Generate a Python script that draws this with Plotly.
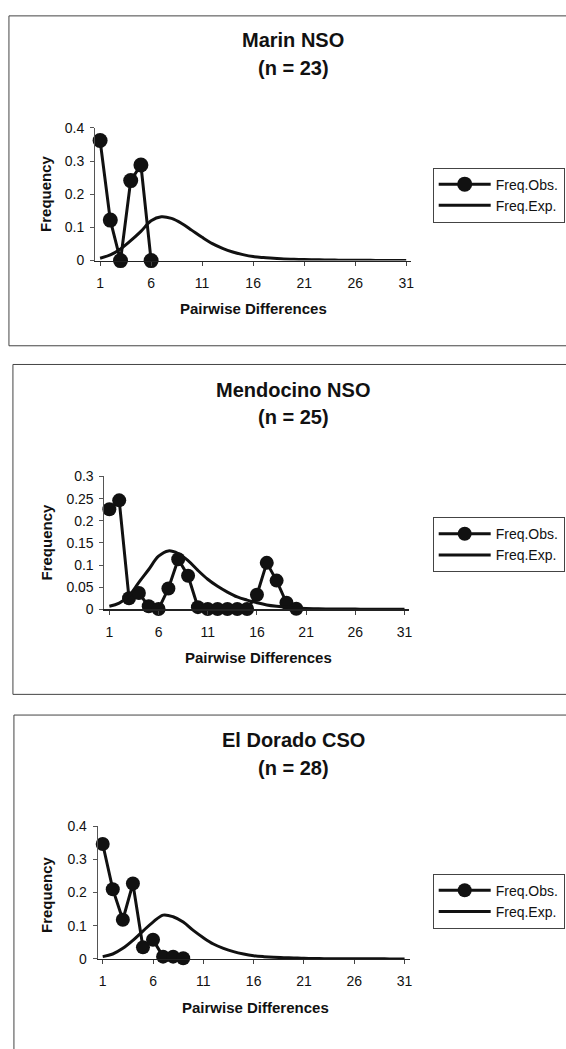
import plotly.graph_objects as go

W, H = 566, 1049

# ---------------- data ----------------
pairwise = list(range(1, 32))
tick_vals = [1, 6, 11, 16, 21, 26, 31]
tick_text = ["1", "6", "11", "16", "21", "26", "31"]

marin_x = [1, 2, 3, 4, 5, 6]
marin_obs = [0.362, 0.122, 0.0, 0.241, 0.288, 0.0]
marin_exp = [0.007, 0.017, 0.035, 0.060, 0.088, 0.120, 0.132, 0.127, 0.112, 0.091,
             0.070, 0.051, 0.037, 0.026, 0.018, 0.012, 0.009, 0.007, 0.005, 0.004,
             0.003, 0.0025, 0.002, 0.0015, 0.001, 0.001, 0.0008, 0.0006, 0.0005, 0.0004, 0.0003]

mendo_x = list(range(1, 21))
mendo_obs = [0.226, 0.246, 0.025, 0.037, 0.007, 0.001, 0.047, 0.113, 0.076, 0.005,
             0.001, 0.001, 0.001, 0.001, 0.001, 0.033, 0.105, 0.065, 0.015, 0.0015]
mendo_exp = [0.007, 0.014, 0.031, 0.061, 0.090, 0.120, 0.132, 0.126, 0.110, 0.088,
             0.068, 0.052, 0.039, 0.028, 0.021, 0.015, 0.010, 0.007, 0.005, 0.003,
             0.002, 0.0015, 0.001, 0.001, 0.0008, 0.0006, 0.0005, 0.0004, 0.0003, 0.0002, 0.0002]

eldo_x = [1, 2, 3, 4, 5, 6, 7, 8, 9]
eldo_obs = [0.346, 0.210, 0.118, 0.227, 0.035, 0.058, 0.007, 0.007, 0.002]
eldo_exp = [0.007, 0.015, 0.032, 0.056, 0.084, 0.111, 0.132, 0.127, 0.111, 0.086,
            0.064, 0.045, 0.032, 0.022, 0.015, 0.010, 0.007, 0.005, 0.004, 0.003,
            0.002, 0.0015, 0.001, 0.001, 0.0008, 0.0006, 0.0005, 0.0004, 0.0003, 0.0002, 0.0002]

titles = ["Marin NSO", "Mendocino NSO", "El Dorado CSO"]
subtitles = ["(n = 23)", "(n = 25)", "(n = 28)"]
y_ticks = [[0, 0.1, 0.2, 0.3, 0.4],
           [0, 0.05, 0.1, 0.15, 0.2, 0.25, 0.3],
           [0, 0.1, 0.2, 0.3, 0.4]]
y_tick_text = [["0", "0.1", "0.2", "0.3", "0.4"],
               ["0", "0.05", "0.1", "0.15", "0.2", "0.25", "0.3"],
               ["0", "0.1", "0.2", "0.3", "0.4"]]
y_max = [0.4, 0.3, 0.4]
obs_names = "Freq.Obs."
exp_names = "Freq.Exp."

# ---------------- layout geometry (pixels) ----------------
FONT = "Liberation Sans, Arial, sans-serif"
INK = "#111111"
panels = [
    dict(x0=95.5, x1=413.5, ytop=121.7, ybot=256.5, legtop=162, frame=(9, 8, 343),
         title_y=33, sub_y=61, ylab=(45, 188), xlab=(255, 305), msize=15),
    dict(x0=105.0, x1=411.6, ytop=475.7, ybot=610.7, legtop=517, frame=(13, 362, 697),
         title_y=388, sub_y=415, ylab=(47, 542), xlab=(260, 660), msize=14),
    dict(x0=98.2, x1=411.8, ytop=830.7, ybot=965.7, legtop=879, frame=(14, 718, 1100),
         title_y=743, sub_y=772, ylab=(47, 900), xlab=(257, 1015), msize=14),
]

def px(x):
    return x / W

def py(y):
    return 1 - y / H

fig = go.Figure()
series = [(marin_x, marin_obs, marin_exp), (mendo_x, mendo_obs, mendo_exp), (eldo_x, eldo_obs, eldo_exp)]

annotations = []
shapes = []
for i, (p, (ox, oy, ey)) in enumerate(zip(panels, series)):
    k = "" if i == 0 else str(i + 1)
    leg = "legend" if i == 0 else f"legend{i + 1}"
    fig.add_trace(go.Scatter(
        x=ox, y=oy, mode="lines+markers", name=obs_names,
        line=dict(color=INK, width=3), marker=dict(color=INK, size=p["msize"]),
        xaxis="x" + k, yaxis="y" + k, legend=leg, cliponaxis=False))
    fig.add_trace(go.Scatter(
        x=pairwise, y=ey, mode="lines", name=exp_names, line=dict(color=INK, width=3, shape="spline"),
        xaxis="x" + k, yaxis="y" + k, legend=leg, cliponaxis=False))

    fig.update_layout(**{
        "xaxis" + k: dict(domain=[px(p["x0"]), px(p["x1"])], range=[0.5, 31.5],
                          anchor="y" + k, tickvals=tick_vals, ticktext=tick_text,
                          showgrid=False, zeroline=False, showline=True, linecolor="#222",
                          linewidth=1.5, ticks="outside", ticklen=4, tickcolor="#444",
                          ticklabelstandoff=5,
                          tickfont=dict(family=FONT, size=14, color=INK)),
        "yaxis" + k: dict(domain=[py(p["ybot"]), py(p["ytop"])], range=[0, y_max[i]],
                          anchor="x" + k, tickvals=y_ticks[i], ticktext=y_tick_text[i],
                          showgrid=False, zeroline=False, showline=True, linecolor="#555",
                          linewidth=1, ticks="outside", ticklen=4, tickcolor="#555",
                          ticklabelstandoff=3,
                          tickfont=dict(family=FONT, size=14, color=INK)),
        leg: dict(x=px(435), y=py(p["legtop"]), xanchor="left", yanchor="top",
                  bgcolor="white", bordercolor="#444", borderwidth=1,
                  font=dict(family=FONT, size=14, color=INK), itemwidth=52,
                  tracegroupgap=0),
    })

    cx = 295
    annotations += [
        dict(x=px(cx), y=py(p["title_y"]), xref="paper", yref="paper", text="<b>%s</b>" % titles[i],
             showarrow=False, font=dict(family=FONT, size=20, color=INK), xanchor="center", yanchor="middle"),
        dict(x=px(cx), y=py(p["sub_y"]), xref="paper", yref="paper", text="<b>%s</b>" % subtitles[i],
             showarrow=False, font=dict(family=FONT, size=20, color=INK), xanchor="center", yanchor="middle"),
        dict(x=px(p["ylab"][0]), y=py(p["ylab"][1]), xref="paper", yref="paper", text="<b>Frequency</b>",
             showarrow=False, textangle=-90, font=dict(family=FONT, size=15, color=INK),
             xanchor="center", yanchor="middle"),
        dict(x=px(p["xlab"][0]), y=py(p["xlab"][1]), xref="paper", yref="paper",
             text="<b>Pairwise Differences</b>", showarrow=False,
             font=dict(family=FONT, size=15, color=INK), xanchor="center", yanchor="middle"),
    ]
    fx, ft, fb = p["frame"]
    shapes.append(dict(type="rect", xref="paper", yref="paper", x0=px(fx), x1=1.05,
                       y0=py(fb), y1=py(ft), line=dict(color="#444", width=1)))

fig.update_layout(width=W, height=H, margin=dict(l=0, r=0, t=0, b=0),
                  paper_bgcolor="white", plot_bgcolor="white",
                  annotations=annotations, shapes=shapes, showlegend=True)

fig.write_html("out.html",
               config={"displayModeBar": False, "staticPlot": True},
               post_script="document.body.style.margin='0';document.body.style.overflow='hidden';")
